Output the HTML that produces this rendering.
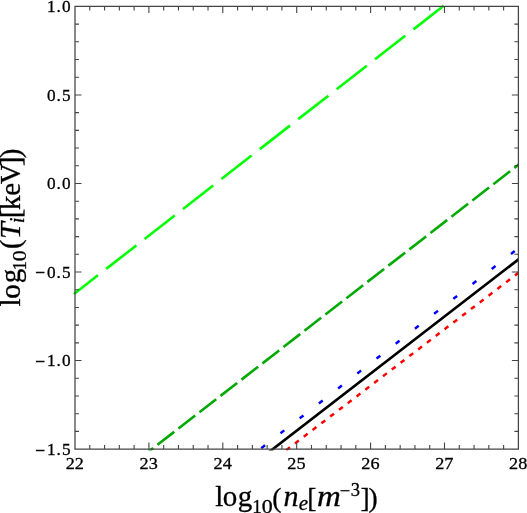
<!DOCTYPE html>
<html><head><meta charset="utf-8"><style>
html,body{margin:0;padding:0;background:#fff;}
body{width:527px;height:513px;overflow:hidden;}
svg{display:block;}
</style></head><body>
<svg width="527" height="513" viewBox="0 0 527 513"><defs><clipPath id="pc"><rect x="0" y="0" width="519.0" height="450.5"/></clipPath></defs><g clip-path="url(#pc)"><line x1="75.00" y1="293.20" x2="442.80" y2="6.50" stroke="#00ff00" stroke-width="2.6" stroke-linecap="square" stroke-dasharray="35.7 13.0" stroke-dashoffset="7.87"/><line x1="148.19" y1="452.00" x2="521.00" y2="162.77" stroke="#00aa00" stroke-width="2.6" stroke-linecap="square" stroke-dasharray="18.6 7.97" stroke-dashoffset="13.52"/><line x1="269.04" y1="452.00" x2="521.00" y2="257.41" stroke="#000000" stroke-width="2.7" stroke-linecap="square"/><line x1="256.48" y1="452.00" x2="521.00" y2="246.23" stroke="#0000ff" stroke-width="2.5" stroke-linecap="square" stroke-dasharray="2.3 22.03" stroke-dashoffset="16.97"/><line x1="283.80" y1="452.00" x2="521.00" y2="270.90" stroke="#ff0000" stroke-width="2.5" stroke-linecap="square" stroke-dasharray="2.3 8.77" stroke-dashoffset="6.81"/></g>
<path d="M75.0,6.4 L75.0,449.1 L518.4,449.1 L518.4,6.4 Z" fill="none" stroke="#444" stroke-width="1.25"/>
<path d="M89.78,449.1 v-4.0 M89.78,6.4 v4.0 M104.56,449.1 v-4.0 M104.56,6.4 v4.0 M119.34,449.1 v-4.0 M119.34,6.4 v4.0 M134.12,449.1 v-4.0 M134.12,6.4 v4.0 M148.9,449.1 v-6.5 M148.9,6.4 v6.5 M163.68,449.1 v-4.0 M163.68,6.4 v4.0 M178.46,449.1 v-4.0 M178.46,6.4 v4.0 M193.24,449.1 v-4.0 M193.24,6.4 v4.0 M208.02,449.1 v-4.0 M208.02,6.4 v4.0 M222.8,449.1 v-6.5 M222.8,6.4 v6.5 M237.58,449.1 v-4.0 M237.58,6.4 v4.0 M252.36,449.1 v-4.0 M252.36,6.4 v4.0 M267.14,449.1 v-4.0 M267.14,6.4 v4.0 M281.92,449.1 v-4.0 M281.92,6.4 v4.0 M296.7,449.1 v-6.5 M296.7,6.4 v6.5 M311.48,449.1 v-4.0 M311.48,6.4 v4.0 M326.26,449.1 v-4.0 M326.26,6.4 v4.0 M341.04,449.1 v-4.0 M341.04,6.4 v4.0 M355.82,449.1 v-4.0 M355.82,6.4 v4.0 M370.6,449.1 v-6.5 M370.6,6.4 v6.5 M385.38,449.1 v-4.0 M385.38,6.4 v4.0 M400.16,449.1 v-4.0 M400.16,6.4 v4.0 M414.94,449.1 v-4.0 M414.94,6.4 v4.0 M429.72,449.1 v-4.0 M429.72,6.4 v4.0 M444.5,449.1 v-6.5 M444.5,6.4 v6.5 M459.28,449.1 v-4.0 M459.28,6.4 v4.0 M474.06,449.1 v-4.0 M474.06,6.4 v4.0 M488.84,449.1 v-4.0 M488.84,6.4 v4.0 M503.62,449.1 v-4.0 M503.62,6.4 v4.0 M75.0,431.39 h4.0 M518.4,431.39 h-4.0 M75.0,413.68 h4.0 M518.4,413.68 h-4.0 M75.0,395.98 h4.0 M518.4,395.98 h-4.0 M75.0,378.27 h4.0 M518.4,378.27 h-4.0 M75.0,360.56 h6.5 M518.4,360.56 h-6.5 M75.0,342.85 h4.0 M518.4,342.85 h-4.0 M75.0,325.14 h4.0 M518.4,325.14 h-4.0 M75.0,307.44 h4.0 M518.4,307.44 h-4.0 M75.0,289.73 h4.0 M518.4,289.73 h-4.0 M75.0,272.02 h6.5 M518.4,272.02 h-6.5 M75.0,254.31 h4.0 M518.4,254.31 h-4.0 M75.0,236.6 h4.0 M518.4,236.6 h-4.0 M75.0,218.9 h4.0 M518.4,218.9 h-4.0 M75.0,201.19 h4.0 M518.4,201.19 h-4.0 M75.0,183.48 h6.5 M518.4,183.48 h-6.5 M75.0,165.77 h4.0 M518.4,165.77 h-4.0 M75.0,148.06 h4.0 M518.4,148.06 h-4.0 M75.0,130.36 h4.0 M518.4,130.36 h-4.0 M75.0,112.65 h4.0 M518.4,112.65 h-4.0 M75.0,94.94 h6.5 M518.4,94.94 h-6.5 M75.0,77.23 h4.0 M518.4,77.23 h-4.0 M75.0,59.52 h4.0 M518.4,59.52 h-4.0 M75.0,41.82 h4.0 M518.4,41.82 h-4.0 M75.0,24.11 h4.0 M518.4,24.11 h-4.0" fill="none" stroke="#444" stroke-width="1.1"/>
<g font-family="Liberation Serif, serif" font-size="17.2" fill="#000" stroke="#000" stroke-width="0.3"><text transform="translate(70.20,469.40) scale(1.06,1)" text-anchor="middle">2</text><text transform="translate(79.40,469.40) scale(1.06,1)" text-anchor="middle">2</text><text transform="translate(144.10,469.40) scale(1.06,1)" text-anchor="middle">2</text><text transform="translate(153.30,469.40) scale(1.06,1)" text-anchor="middle">3</text><text transform="translate(218.00,469.40) scale(1.06,1)" text-anchor="middle">2</text><text transform="translate(227.20,469.40) scale(1.06,1)" text-anchor="middle">4</text><text transform="translate(291.90,469.40) scale(1.06,1)" text-anchor="middle">2</text><text transform="translate(301.10,469.40) scale(1.06,1)" text-anchor="middle">5</text><text transform="translate(365.80,469.40) scale(1.06,1)" text-anchor="middle">2</text><text transform="translate(375.00,469.40) scale(1.06,1)" text-anchor="middle">6</text><text transform="translate(439.70,469.40) scale(1.06,1)" text-anchor="middle">2</text><text transform="translate(448.90,469.40) scale(1.06,1)" text-anchor="middle">7</text><text transform="translate(513.60,469.40) scale(1.06,1)" text-anchor="middle">2</text><text transform="translate(522.80,469.40) scale(1.06,1)" text-anchor="middle">8</text><text transform="translate(40.10,455.55) scale(1.0,1)" text-anchor="middle" stroke-width="0.55">−</text><text transform="translate(51.20,454.80) scale(1.0,1)" text-anchor="middle">1</text><text transform="translate(58.60,454.80) scale(1.0,1)" text-anchor="middle">.</text><text transform="translate(66.20,454.80) scale(1.0,1)" text-anchor="middle">5</text><text transform="translate(40.10,367.01) scale(1.0,1)" text-anchor="middle" stroke-width="0.55">−</text><text transform="translate(51.20,366.26) scale(1.0,1)" text-anchor="middle">1</text><text transform="translate(58.60,366.26) scale(1.0,1)" text-anchor="middle">.</text><text transform="translate(66.20,366.26) scale(1.0,1)" text-anchor="middle">0</text><text transform="translate(40.10,278.47) scale(1.0,1)" text-anchor="middle" stroke-width="0.55">−</text><text transform="translate(51.20,277.72) scale(1.0,1)" text-anchor="middle">0</text><text transform="translate(58.60,277.72) scale(1.0,1)" text-anchor="middle">.</text><text transform="translate(66.20,277.72) scale(1.0,1)" text-anchor="middle">5</text><text transform="translate(51.20,189.18) scale(1.0,1)" text-anchor="middle">0</text><text transform="translate(58.60,189.18) scale(1.0,1)" text-anchor="middle">.</text><text transform="translate(66.20,189.18) scale(1.0,1)" text-anchor="middle">0</text><text transform="translate(51.20,100.64) scale(1.0,1)" text-anchor="middle">0</text><text transform="translate(58.60,100.64) scale(1.0,1)" text-anchor="middle">.</text><text transform="translate(66.20,100.64) scale(1.0,1)" text-anchor="middle">5</text><text transform="translate(51.20,12.10) scale(1.0,1)" text-anchor="middle">1</text><text transform="translate(58.60,12.10) scale(1.0,1)" text-anchor="middle">.</text><text transform="translate(66.20,12.10) scale(1.0,1)" text-anchor="middle">0</text></g>
<g font-family="Liberation Serif, serif" fill="#000" stroke="#000" stroke-width="0.3"><text x="215.25" y="506.1" font-size="29">l</text><text x="222.75" y="506.1" font-size="29">o</text><text x="237.65" y="506.1" font-size="29">g</text><text x="252.30" y="512.8" font-size="19">1</text><text transform="translate(261.64,512.8) scale(1.15,1)" font-size="19">0</text><text x="272.35" y="506.7" font-size="27.5">(</text><text x="283.45" y="506.1" font-size="30" font-style="italic">n</text><text x="298.70" y="510.2" font-size="21" font-style="italic">e</text><text x="307.35" y="506.7" font-size="27.5">[</text><text transform="translate(317.07,506.1) scale(1.1,1)" font-size="30" font-style="italic">m</text><text x="339.70" y="496.8" font-size="18.5">−</text><text x="350.65" y="495.5" font-size="18.5">3</text><text x="360.45" y="506.7" font-size="27.5">]</text><text x="368.50" y="506.7" font-size="27.5">)</text><g transform="translate(0,305.7) rotate(-90)"><text x="-0.85" y="20.0" font-size="29">l</text><text x="6.85" y="20.0" font-size="29">o</text><text x="22.40" y="20.0" font-size="29">g</text><text x="35.15" y="26.3" font-size="19">1</text><text transform="translate(44.44,26.3) scale(1.15,1)" font-size="19">0</text><text x="56.70" y="20.0" font-size="29">(</text><text x="66.60" y="20.0" font-size="30" font-style="italic">T</text><text x="82.40" y="23.5" font-size="21" font-style="italic">i</text><text x="87.40" y="20.0" font-size="29">[</text><text x="95.60" y="20.0" font-size="29">k</text><text x="110.00" y="20.0" font-size="29">e</text><text x="121.45" y="20.0" font-size="29">V</text><text x="139.50" y="20.0" font-size="29">]</text><text x="147.50" y="20.0" font-size="29">)</text></g></g></svg>
</body></html>
